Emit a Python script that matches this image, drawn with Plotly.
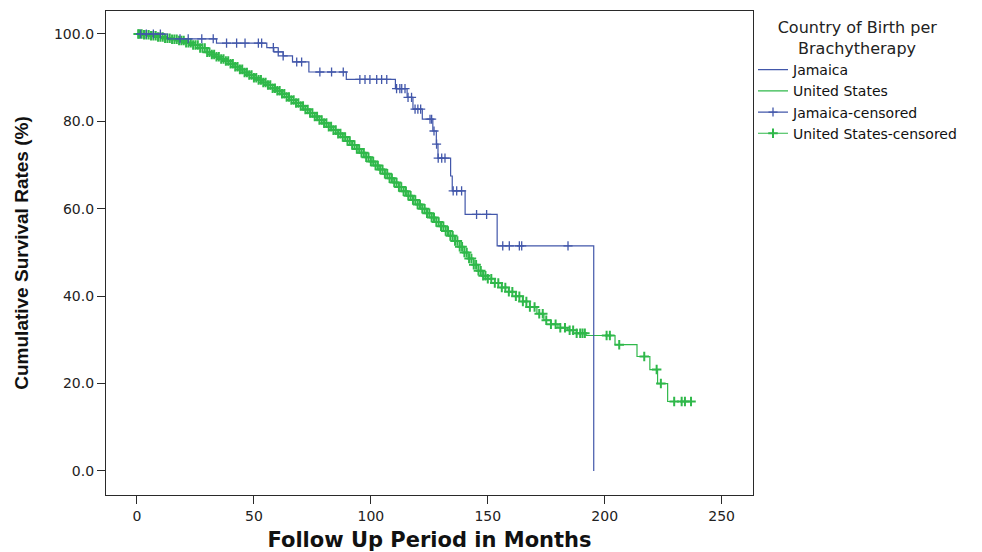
import numpy as np
import plotly.graph_objects as go

# ---------------- data ----------------
# Kaplan-Meier step points: Jamaica
jam_t = [0, 13, 34, 55.5, 58.5, 62.5, 66.5, 73.5, 89.5, 110.5, 115.5, 118, 122,
         126.5, 128, 128.7, 134.1, 134.8, 140.3, 154, 195.3]
jam_s = [100, 98.9, 97.9, 96.9, 95.9, 95.0, 93.6, 91.3, 89.6, 87.5, 85.5, 82.8, 80.5,
         77.8, 74.8, 71.6, 67.5, 64.1, 58.7, 51.5, 0.0]
jam_cens = [1.5, 4, 7, 10, 18.4, 21.9, 27.7, 32.6, 38.3, 42.6, 46.2, 51.9, 53.3,
            58.3, 60.4, 62.5, 68.3, 70.4, 78.2, 83.2, 88.2, 95.3, 97.5, 99.6, 102.5,
            104.6, 106.8, 111, 112.4, 113.2, 114.6, 115.9, 117.4, 118.9, 120.1, 121.3,
            125.3, 126, 127, 128.1, 128.8, 130.3, 131.7, 135.2, 136.7, 138.8, 145.2,
            149.5, 156.4, 159.2, 163.5, 164.5, 184.3]

# Kaplan-Meier step points: United States
us_t = [0, 3, 6, 9, 12, 15, 18, 21, 24, 27, 30, 32, 34, 36, 38, 40, 42, 44, 46, 48,
        50, 52, 54, 56, 58, 60, 62, 64, 66, 68, 70, 72, 74, 76, 78, 80, 82, 84, 86, 88,
        90, 92, 94, 96, 98, 100, 102, 104, 106, 108, 110, 112, 114, 116, 118, 120, 122,
        124, 126, 128, 130, 132, 134, 136, 138, 140, 142, 144, 146, 148, 150, 153, 156,
        159, 162, 165, 168, 171, 174, 177, 180, 184, 188, 192, 204.4, 213.8, 219.3,
        222.6, 226.9]
us_s = [100, 99.8, 99.6, 99.3, 99.0, 98.8, 98.5, 98.0, 97.5, 96.8, 95.8, 95.3, 94.8,
        94.3, 93.8, 93.2, 92.5, 91.9, 91.2, 90.6, 90.0, 89.5, 88.9, 88.3, 87.6, 87.0,
        86.3, 85.6, 84.9, 84.2, 83.5, 82.7, 81.9, 81.1, 80.3, 79.6, 78.8, 78.0, 77.2,
        76.4, 75.5, 74.6, 73.7, 72.8, 71.8, 70.8, 69.9, 69.0, 68.0, 67.0, 66.0, 65.0,
        64.0, 63.0, 62.0, 61.0, 60.0, 59.0, 58.0, 57.0, 56.0, 54.9, 53.8, 52.6, 51.3,
        50.0, 48.6, 47.2, 45.8, 44.7, 44.0, 43.0, 42.0, 41.0, 40.0, 38.8, 37.5, 36.0,
        34.5, 33.6, 32.8, 32.2, 31.5, 31.0, 28.9, 26.2, 23.2, 20.0, 15.9]
us_end = 236.9
us_cens = [0.5, 1, 2, 3, 4, 5, 6, 7, 8, 9, 10, 11, 12, 13, 14, 15, 16, 17, 18, 19,
           20, 21, 22, 23, 24, 25, 26, 27, 28, 29, 30, 31, 32, 33, 34, 35, 36, 37, 38,
           39, 40, 41, 42, 43, 44, 45, 46, 47, 48, 49, 50, 51, 52, 53, 54, 55, 56, 57,
           58, 59, 60, 61, 62, 63, 64, 65, 66, 67, 68, 69, 70, 71, 72, 73, 74, 75, 76,
           77, 78, 79, 80, 81, 82, 83, 84, 85, 86, 87, 88, 89, 90, 91, 92, 93, 94, 95,
           96, 97, 98, 99, 100, 101, 102, 103, 104, 105, 106, 107, 108, 109, 110, 111,
           112, 113, 114, 115, 116, 117, 118, 119, 120, 121, 122, 123, 124, 125, 126,
           127, 128, 129, 130, 131, 132, 133, 134, 135, 136, 137, 138, 139, 140, 141,
           142, 143, 144, 145, 146, 147, 148, 149, 150, 151.5, 153, 154.5, 156, 157.5,
           159, 160.5, 162, 163.5, 165, 166.5, 168, 170, 172, 173.5, 175, 177, 179, 181,
           183, 185, 186.5, 188, 189.5, 190.5, 191.5, 200.8, 202.2, 206.2, 216.9, 222.2,
           224.0, 229.7, 232.9, 234.3, 236.9]

x_ticks = [0, 50, 100, 150, 200, 250]
y_ticks = [0, 20, 40, 60, 80, 100]

BLUE = "#4257aa"
GREEN = "#2fb84a"


def surv_at(times, values, pts):
    t = np.asarray(times, dtype=float)
    v = np.asarray(values, dtype=float)
    idx = np.searchsorted(t, np.asarray(pts, dtype=float), side="right") - 1
    return v[idx]


def gapped(xs, ys):
    gx, gy = [], []
    for a, b in zip(xs, ys):
        gx += [a, None]
        gy += [float(b), None]
    return gx, gy


jcx, jcy = gapped(jam_cens, surv_at(jam_t, jam_s, jam_cens))
ucx, ucy = gapped(us_cens, surv_at(us_t, us_s, us_cens))

fig = go.Figure()

fig.add_trace(go.Scatter(
    x=us_t + [us_end], y=us_s + [us_s[-1]], mode="lines", name="United States",
    line=dict(color=GREEN, width=1.2, shape="hv"), legendrank=2))
fig.add_trace(go.Scatter(
    x=ucx, y=ucy, mode="lines+markers", name="United States-censored",
    line=dict(color=GREEN, width=1.2), connectgaps=False,
    marker=dict(symbol="cross-thin", size=6.8, color=GREEN,
                line=dict(color=GREEN, width=2.0)), legendrank=4))
fig.add_trace(go.Scatter(
    x=jam_t, y=jam_s, mode="lines", name="Jamaica",
    line=dict(color=BLUE, width=1.2, shape="hv"), legendrank=1))
fig.add_trace(go.Scatter(
    x=jcx, y=jcy, mode="lines+markers", name="Jamaica-censored",
    line=dict(color=BLUE, width=1.2), connectgaps=False,
    marker=dict(symbol="cross-thin", size=6.5, color=BLUE,
                line=dict(color=BLUE, width=1.3)), legendrank=3))

axis_common = dict(
    showline=True, linecolor="#2a2a2a", linewidth=1.3, mirror=True,
    ticks="outside", ticklen=8, tickcolor="#2a2a2a", tickwidth=1.2,
    showgrid=False, zeroline=False, automargin=False,
    tickfont=dict(family="DejaVu Sans", size=14, color="#222222"),
)

fig.update_xaxes(
    range=[-13.25, 263.4], tickvals=x_ticks, ticktext=[str(v) for v in x_ticks],
    title=dict(text="Follow Up Period in Months", standoff=12,
               font=dict(family="DejaVu Sans", size=21, color="#111111", weight="bold")),
    **axis_common)
fig.update_yaxes(
    range=[-5.5, 105.26], tickvals=y_ticks, ticktext=[f"{v:.1f}" for v in y_ticks],
    title=dict(text="Cumulative Survival Rates (%)", standoff=20,
               font=dict(family="Liberation Sans", size=19,
                         color="#111111", weight="bold")),
    **axis_common)

# the page body adds an 8 px offset, so the figure is 8 px smaller each way
fig.update_layout(
    width=974, height=544,
    margin=dict(l=98, r=229, t=3, b=57, autoexpand=False),
    paper_bgcolor="white", plot_bgcolor="white",
    showlegend=True,
    legend=dict(
        x=1.0, xanchor="left", y=0.997, yanchor="top",
        title=dict(text="Country of Birth per<br>\u00a0\u00a0\u00a0\u00a0Brachytherapy",
                   side="top center",
                   font=dict(family="DejaVu Sans", size=16, color="#222222")),
        font=dict(family="DejaVu Sans", size=14, color="#111111"),
        bgcolor="rgba(0,0,0,0)", itemwidth=30, tracegroupgap=0,
    ),
)

fig.write_html("out.html")
